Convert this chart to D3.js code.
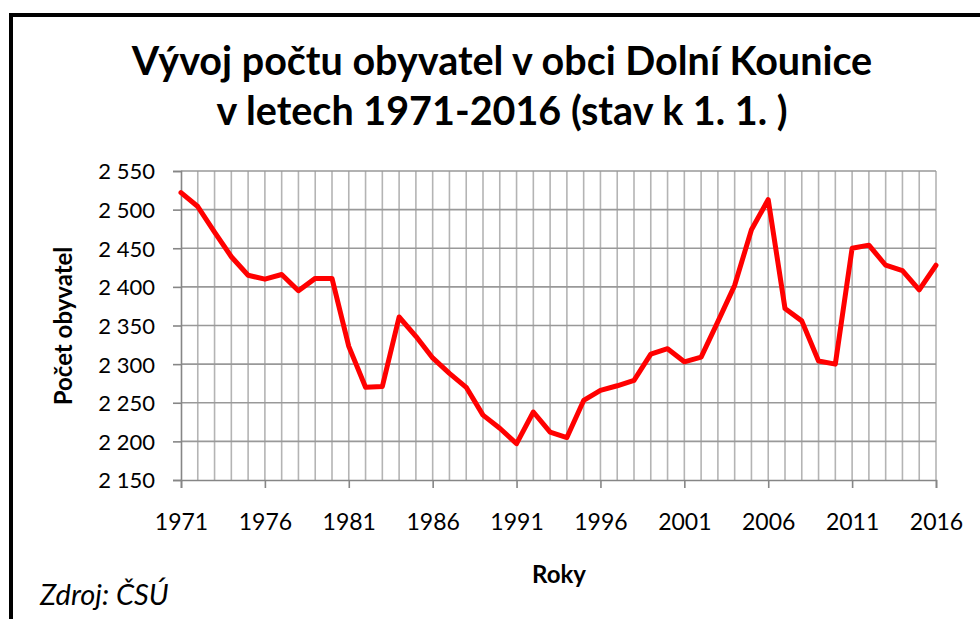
<!DOCTYPE html>
<html>
<head>
<meta charset="utf-8">
<script src="https://cdn.jsdelivr.net/npm/d3@7"></script>
<style>
  html, body { margin: 0; padding: 0; background: #fff; }
  svg { display: block; }
  text { font-family: Lato, "Noto Sans", sans-serif; fill: #000; }
</style>
</head>
<body>
<svg id="chart" width="980" height="619"></svg>
<script>
const years = [1971,1972,1973,1974,1975,1976,1977,1978,1979,1980,
               1981,1982,1983,1984,1985,1986,1987,1988,1989,1990,
               1991,1992,1993,1994,1995,1996,1997,1998,1999,2000,
               2001,2002,2003,2004,2005,2006,2007,2008,2009,2010,
               2011,2012,2013,2014,2015,2016];
const population = [2522,2504,2471,2439,2415,2410,2416,2395,2411,2411,
                    2323,2270,2271,2361,2336,2308,2288,2270,2234,2217,
                    2197,2238,2212,2205,2253,2266,2272,2279,2313,2320,
                    2303,2309,2355,2402,2474,2513,2372,2356,2304,2300,
                    2450,2454,2428,2421,2396,2428];
const yTicks = [2150,2200,2250,2300,2350,2400,2450,2500,2550];
const xTickLabels = [1971,1976,1981,1986,1991,1996,2001,2006,2011,2016];
const titleLines = ["Vývoj počtu obyvatel v obci Dolní Kounice", "v letech 1971-2016 (stav k 1. 1. )"];
const yAxisTitle = "Počet obyvatel";
const xAxisTitle = "Roky";
const sourceText = "Zdroj: ČSÚ";

const svg = d3.select("#chart");
const pLeft = 181, pRight = 936, pTop = 171, pBottom = 480;

const x = d3.scaleLinear().domain([1971, 2016]).range([pLeft, pRight]);
const y = d3.scaleLinear().domain([2150, 2550]).range([pBottom, pTop]);

// frame
svg.append("path")
  .attr("d", `M11,625 L11,15 L990,15`)
  .attr("fill", "none").attr("stroke", "#000").attr("stroke-width", 4);

// vertical gridlines (every year)
svg.append("g").selectAll("line").data(years.slice(1)).join("line")
  .attr("x1", d => x(d)).attr("x2", d => x(d))
  .attr("y1", pTop).attr("y2", pBottom)
  .attr("stroke", "#b4b4b4").attr("stroke-width", 1.6);

// horizontal gridlines
svg.append("g").selectAll("line").data(yTicks.slice(1)).join("line")
  .attr("x1", pLeft).attr("x2", pRight)
  .attr("y1", d => y(d)).attr("y2", d => y(d))
  .attr("stroke", "#999").attr("stroke-width", 1.6);

// y axis
const fmt = d => d3.format(",")(d).replace(",", "\u00a0");
const yAxis = svg.append("g").attr("transform", `translate(${pLeft},0)`)
  .call(d3.axisLeft(y).tickValues(yTicks).tickSize(8).tickPadding(18).tickFormat(fmt));
yAxis.select(".domain").attr("stroke", "#868686").attr("stroke-width", 1.6);
yAxis.selectAll(".tick line").attr("stroke", "#868686").attr("stroke-width", 1.6);
yAxis.selectAll("text").attr("font-size", 22).attr("font-family", "Lato").attr("fill", "#000").attr("dy", "0.36em");

// x axis
const xAxis = svg.append("g").attr("transform", `translate(0,${pBottom})`)
  .call(d3.axisBottom(x).tickValues(xTickLabels).tickSize(8).tickPadding(26).tickFormat(d3.format("d")));
xAxis.select(".domain").attr("stroke", "#868686").attr("stroke-width", 1.6);
xAxis.selectAll(".tick line").attr("stroke", "#868686").attr("stroke-width", 1.6);
xAxis.selectAll("text").attr("font-size", 23).attr("font-family", "Lato").attr("fill", "#000");

// line
const line = d3.line().x((d, i) => x(years[i])).y(d => y(d));
svg.append("path").datum(population)
  .attr("d", line)
  .attr("fill", "none").attr("stroke", "#ff0000").attr("stroke-width", 5)
  .attr("stroke-linejoin", "round").attr("stroke-linecap", "round");

// title
svg.append("g").selectAll("text").data(titleLines).join("text")
  .attr("x", 502).attr("y", (d, i) => 75 + i * 50)
  .attr("text-anchor", "middle").attr("font-size", 39.5).attr("font-weight", "bold")
  .text(d => d);

// axis titles
svg.append("text")
  .attr("transform", `translate(72,326) rotate(-90)`)
  .attr("text-anchor", "middle").attr("font-size", 24).attr("font-weight", "bold")
  .text(yAxisTitle);
svg.append("text")
  .attr("x", 559).attr("y", 583)
  .attr("text-anchor", "middle").attr("font-size", 24).attr("font-weight", "bold")
  .text(xAxisTitle);

// source
svg.append("text")
  .attr("x", 40).attr("y", 605)
  .attr("font-size", 29).attr("font-style", "italic")
  .text(sourceText);
</script>
</body>
</html>
